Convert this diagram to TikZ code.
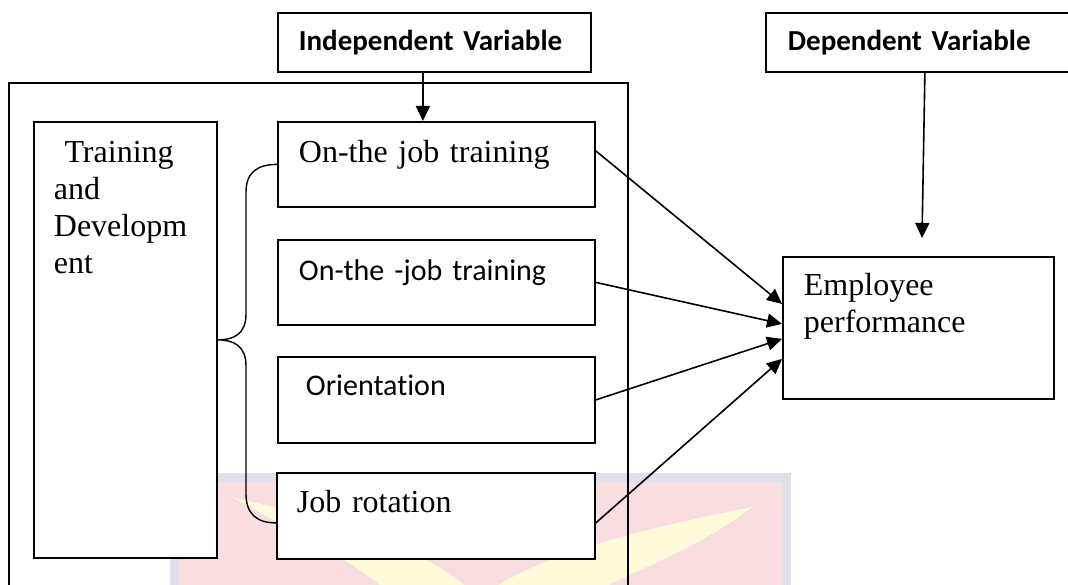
\documentclass[tikz,border=0pt]{standalone}
\usepackage{fontspec}
\setmainfont{Liberation Serif}
\newfontfamily\calibri[Ligatures=NoCommon]{Carlito}
\usetikzlibrary{arrows.meta}
\definecolor{wmpink}{RGB}{248,222,225}
\definecolor{wmgray}{RGB}{222,224,234}
\definecolor{wmyellow}{RGB}{255,250,218}

\begin{document}
\begin{tikzpicture}[x=1pt, y=-1pt,
  box/.style={draw, line width=1.8pt, fill=white, anchor=north west, inner ysep=0pt, align=left},
  serif/.style={font=\fontsize{32}{37}\selectfont},
  calib/.style={font=\fontsize{30}{36}\calibri},
  varfont/.style={font=\fontsize{29}{34}\calibri\bfseries},
  arr/.style={line width=1.6pt, -{Triangle[length=15pt,width=14pt]}}]

\useasboundingbox (0,0) rectangle (1068,585);

% faint logo behind the lower boxes
\fill[wmpink, draw=wmgray, line width=9pt] (174.5,477.5) rectangle (786.5,600);
\fill[wmyellow] (470,590) .. controls (420,545) and (330,520) .. (232,497)
  .. controls (300,535) and (360,565) .. (385,590) -- cycle;
\fill[wmyellow] (490,590) .. controls (560,545) and (680,522) .. (752,507)
  .. controls (700,548) and (630,572) .. (600,590) -- cycle;

% outer frame, open at the bottom
\draw[line width=1.8pt] (9,595) -- (9,83) -- (628,83) -- (628,595);

% nodes
{
\node[box, varfont, inner xsep=21pt, text width=271pt, text height=38pt, text depth=21pt] (indvar) at (277,12) {Independent Variable};
\node[box, varfont, inner xsep=22pt, text width=261pt, text height=38pt, text depth=21pt] (depvar) at (765,12) {Dependent Variable};

\node[box, serif, inner xsep=20pt, text width=143pt, text height=41pt, text depth=395pt] (training) at (33,121) {~Training\\and\\Developm\\ent};

\node[box, serif, inner xsep=21pt, text width=275pt, text height=41pt, text depth=44pt] (onjob) at (277,121) {On-the job training};
\node[box, calib, inner xsep=21pt, text width=275pt, text height=41pt, text depth=44pt] (onjobb) at (277,239) {On-the -job training};
\node[box, calib, inner xsep=28pt, text width=261pt, text height=39pt, text depth=47pt] (orient) at (277,356) {Orientation};
\node[box, serif, inner xsep=20pt, text width=278pt, text height=40pt, text depth=46pt] (jobrot) at (276,472) {Job rotation};

\node[box, serif, inner xsep=21pt, text width=229pt, text height=39pt, text depth=103pt] (perf) at (782,256) {Employee\\performance};
}

\coordinate (deptip) at (922,238);

% brace
\draw[line width=1.4pt] (onjob.west) .. controls +(-19,0) and +(0,-20) .. (246,192) -- (246,314)
  .. controls +(0,20) and +(16,0) .. (training.east)
  .. controls +(16,0) and +(0,-20) .. (246,366) -- (246,494)
  .. controls +(0,20) and +(-19,0) .. ([yshift=-7pt]jobrot.west);

% arrows
\draw[arr] ([xshift=-11.5pt]indvar.south) -- ([xshift=-11.5pt]indvar.south |- onjob.north);
\draw[arr] ([xshift=6.5pt]depvar.south) -- (deptip);

\draw[arr] ([yshift=13.5pt]onjob.east) -- ([yshift=24pt]perf.west);
\draw[arr] (onjobb.east) -- ([yshift=4pt]perf.west);
\draw[arr] (orient.east) -- ([yshift=-11pt]perf.west);
\draw[arr] ([yshift=-7pt]jobrot.east) -- ([yshift=-31pt]perf.west);

\end{tikzpicture}
\end{document}
